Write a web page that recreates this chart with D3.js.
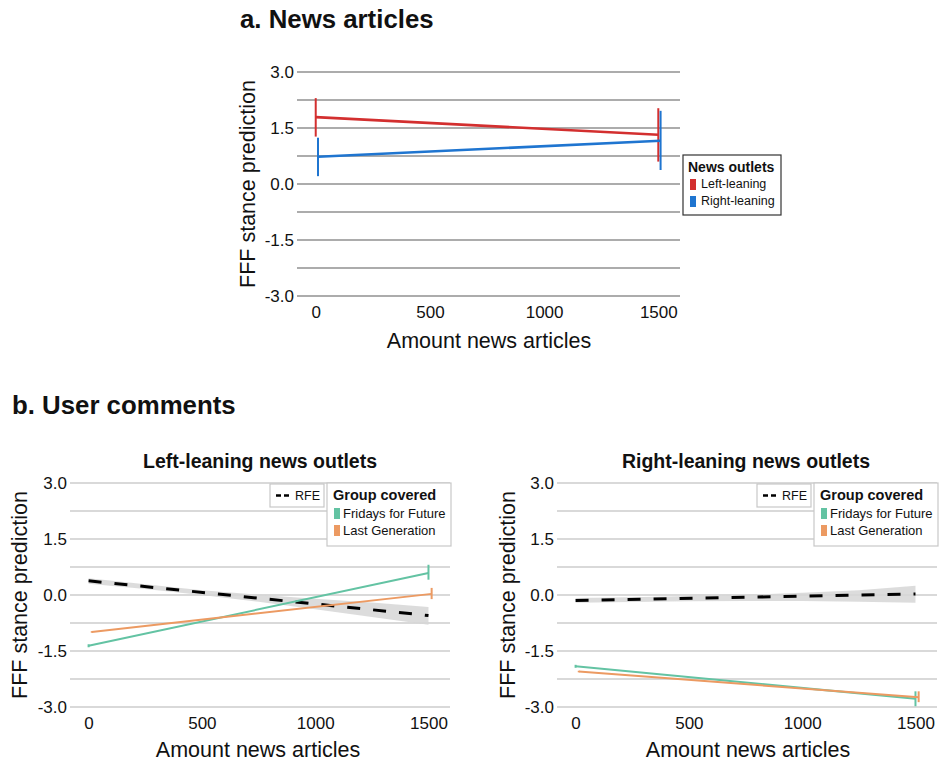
<!DOCTYPE html>
<html><head><meta charset="utf-8">
<script src="https://cdn.jsdelivr.net/npm/d3@7"></script>
<style>body{margin:0;background:#fff}svg{display:block;font-family:"Liberation Sans",Arial,sans-serif}</style>
</head><body><svg id="c" width="944" height="765"></svg>
<script>
// ---- data ----
const xTicks = [0, 500, 1000, 1500];
const yTicks = [-3, -1.5, 0, 1.5, 3];
const gridVals = [-3, -2.25, -1.5, -0.75, 0, 0.75, 1.5, 2.25, 3];
const amountX = [0, 1500];

// Panel a: news articles
const outlets = ["Left-leaning", "Right-leaning"];
const newsMean = [[1.79, 1.32], [0.73, 1.16]];
const newsLo   = [[1.27, 0.60], [0.21, 0.375]];
const newsHi   = [[2.30, 2.03], [1.24, 1.96]];

// Panel b: user comments
const groups = ["Fridays for Future", "Last Generation"];
const leftMean = [[-1.36, 0.59], [-0.99, 0.03]];
const leftLo   = [[-1.40, 0.41], [-1.01, -0.11]];
const leftHi   = [[-1.32, 0.81], [-0.97, 0.19]];
const rightMean = [[-1.91, -2.78], [-2.05, -2.74]];
const rightLo   = [[-1.95, -2.98], [-2.07, -2.87]];
const rightHi   = [[-1.87, -2.58], [-2.03, -2.58]];

const rfeX = [0, 250, 500, 750, 1000, 1250, 1500];
const leftRfe = [0.38, -0.55];
const leftRfeHi = [0.45, 0.29, 0.13, 0.01, -0.10, -0.20, -0.32];
const leftRfeLo = [0.30, 0.16, 0.00, -0.18, -0.38, -0.59, -0.80];
const rightRfe = [-0.15, 0.03];
const rightRfeHi = [-0.08, -0.06, -0.03, 0.00, 0.06, 0.13, 0.25];
const rightRfeLo = [-0.21, -0.19, -0.17, -0.16, -0.16, -0.18, -0.21];

const outletColors = ["#d32f2f", "#1f75d0"];
const groupColors = ["#63c3a3", "#ec9a62"];

// ---- drawing ----
const svg = d3.select("#c");
svg.append("rect").attr("width", 944).attr("height", 765).attr("fill", "#fff");

function panel(opt) {
  const x = d3.scaleLinear().domain([-82, 1595]).range(opt.xr);
  const y = d3.scaleLinear().domain([-3, 3]).range(opt.yr);
  const g = svg.append("g");
  g.selectAll(".grid").data(gridVals).enter().append("line")
    .attr("x1", opt.xr[0]).attr("x2", opt.xr[1])
    .attr("y1", d => y(d)).attr("y2", d => y(d))
    .attr("stroke", opt.gridColor).attr("stroke-width", 1.2);
  const ya = d3.axisLeft(y).tickValues(yTicks).tickFormat(d3.format(".1f")).tickSize(0).tickPadding(3);
  const yg = g.append("g").attr("transform", `translate(${opt.xr[0]},0)`).call(ya);
  yg.select(".domain").remove();
  yg.selectAll("text").attr("font-size", 17).attr("fill", "#111").attr("font-family", "Liberation Sans, Arial, sans-serif")
    .text(d => d.toFixed(1));
  const xa = d3.axisBottom(x).tickValues(xTicks).tickFormat(d3.format("d")).tickSize(0).tickPadding(10);
  const xg = g.append("g").attr("transform", `translate(0,${opt.yr[0]})`).call(xa);
  xg.select(".domain").remove();
  xg.selectAll("text").attr("font-size", 17).attr("fill", "#111").attr("font-family", "Liberation Sans, Arial, sans-serif");
  g.append("text").attr("transform", `translate(${opt.yTitleX},${(opt.yr[0] + opt.yr[1]) / 2}) rotate(-90)`)
    .attr("text-anchor", "middle").attr("dominant-baseline", "central").attr("font-size", 21.5).attr("fill", "#111")
    .text("FFF stance prediction");
  g.append("text").attr("x", opt.xTitleX).attr("y", opt.xTitleY)
    .attr("text-anchor", "middle").attr("font-size", 21.5).attr("fill", "#111").text("Amount news articles");
  return { x, y, g };
}

function series(p, means, los, his, colors, dodge, width) {
  means.forEach((m, i) => {
    const off = dodge[i];
    const line = d3.line().x((d, j) => p.x(amountX[j] + off)).y(d => p.y(d));
    p.g.append("path").datum(m).attr("d", line).attr("fill", "none")
      .attr("stroke", colors[i]).attr("stroke-width", width);
    amountX.forEach((xv, j) => {
      p.g.append("line").attr("x1", p.x(xv + off)).attr("x2", p.x(xv + off))
        .attr("y1", p.y(los[i][j])).attr("y2", p.y(his[i][j]))
        .attr("stroke", colors[i]).attr("stroke-width", 2);
    });
  });
}

function rfe(p, ends, hi, lo) {
  const area = d3.area().x((d, j) => p.x(rfeX[j])).y0((d, j) => p.y(lo[j])).y1(d => p.y(d));
  p.g.append("path").datum(hi).attr("d", area).attr("fill", "#d6d6d6").attr("opacity", 0.85);
  const line = d3.line().x((d, j) => p.x(amountX[j])).y(d => p.y(d));
  p.g.append("path").datum(ends).attr("d", line).attr("fill", "none")
    .attr("stroke", "#000").attr("stroke-width", 3).attr("stroke-dasharray", "13,13");
}

// Titles
svg.append("text").attr("x", 240).attr("y", 28).attr("font-size", 25.8).attr("font-weight", "bold").attr("fill", "#111").text("a. News articles");
svg.append("text").attr("x", 12).attr("y", 414).attr("font-size", 25.8).attr("font-weight", "bold").attr("fill", "#111").text("b. User comments");

// Panel a
const pa = panel({ xr: [297, 680], yr: [296, 72], gridColor: "#5a5a5a", yTitleX: 248, xTitleX: 489, xTitleY: 348 });
series(pa, newsMean, newsLo, newsHi, outletColors, [0, 10], 2.6);
{
  const lg = svg.append("g").attr("transform", "translate(683,155)");
  lg.append("rect").attr("width", 98).attr("height", 60).attr("fill", "#fff").attr("stroke", "#333").attr("stroke-width", 1.2);
  lg.append("text").attr("x", 5).attr("y", 17).attr("font-size", 14).attr("font-weight", "bold").attr("fill", "#111").text("News outlets");
  outlets.forEach((o, i) => {
    lg.append("rect").attr("x", 7).attr("y", 24 + i * 17).attr("width", 6).attr("height", 11).attr("fill", outletColors[i]);
    lg.append("text").attr("x", 18).attr("y", 33 + i * 17).attr("font-size", 12.5).attr("fill", "#111").text(o);
  });
}

// Panel b
const subTitles = ["Left-leaning news outlets", "Right-leaning news outlets"];
const pl = panel({ xr: [70, 450], yr: [707, 483], gridColor: "#b4b4b4", yTitleX: 20, xTitleX: 258, xTitleY: 757 });
const pr = panel({ xr: [557, 937], yr: [707, 483], gridColor: "#b4b4b4", yTitleX: 508, xTitleX: 748, xTitleY: 757 });
svg.append("text").attr("x", 260).attr("y", 468).attr("text-anchor", "middle").attr("font-size", 19.5).attr("font-weight", "bold").attr("fill", "#111").text(subTitles[0]);
svg.append("text").attr("x", 746).attr("y", 468).attr("text-anchor", "middle").attr("font-size", 19.5).attr("font-weight", "bold").attr("fill", "#111").text(subTitles[1]);

rfe(pl, leftRfe, leftRfeHi, leftRfeLo);
rfe(pr, rightRfe, rightRfeHi, rightRfeLo);
series(pl, leftMean, leftLo, leftHi, groupColors, [0, 14], 2);
series(pr, rightMean, rightLo, rightHi, groupColors, [0, 14], 2);

function legendB(x0) {
  const g1 = svg.append("g").attr("transform", `translate(${x0},484)`);
  g1.append("rect").attr("width", 54).attr("height", 23).attr("fill", "#fff").attr("stroke", "#c8c8c8").attr("stroke-width", 1.2);
  g1.append("line").attr("x1", 6).attr("x2", 21).attr("y1", 11.5).attr("y2", 11.5).attr("stroke", "#000").attr("stroke-width", 2.6).attr("stroke-dasharray", "5,3");
  g1.append("text").attr("x", 25).attr("y", 16).attr("font-size", 12.5).attr("fill", "#111").text("RFE");
  const g2 = svg.append("g").attr("transform", `translate(${x0 + 57},483)`);
  g2.append("rect").attr("width", 124).attr("height", 63).attr("fill", "#fff").attr("stroke", "#c8c8c8").attr("stroke-width", 1.2);
  g2.append("text").attr("x", 6).attr("y", 17).attr("font-size", 14.5).attr("font-weight", "bold").attr("fill", "#111").text("Group covered");
  groups.forEach((o, i) => {
    g2.append("rect").attr("x", 7).attr("y", 25 + i * 17).attr("width", 6).attr("height", 11).attr("fill", groupColors[i]);
    g2.append("text").attr("x", 16).attr("y", 35 + i * 17).attr("font-size", 13).attr("fill", "#111").text(o);
  });
}
legendB(270);
legendB(757);
</script></body></html>
